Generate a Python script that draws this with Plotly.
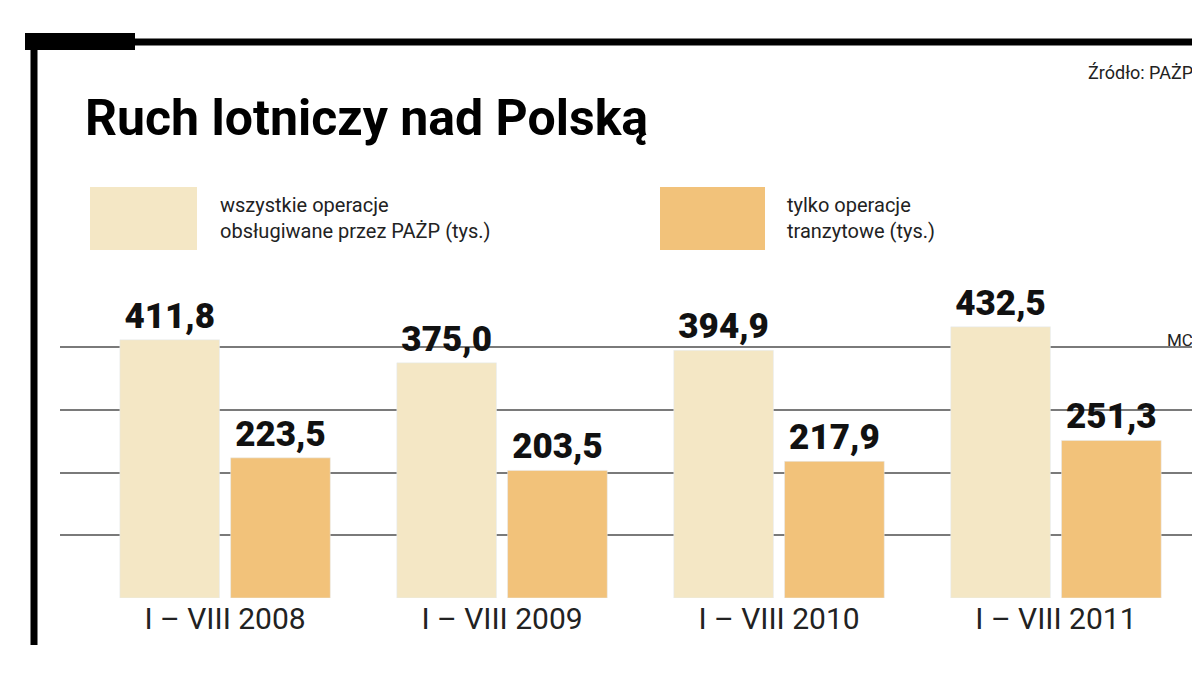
import plotly.graph_objects as go

periods = ["I – VIII 2008", "I – VIII 2009", "I – VIII 2010", "I – VIII 2011"]
all_ops = [411.8, 375.0, 394.9, 432.5]
transit_ops = [223.5, 203.5, 217.9, 251.3]
legend_names = ["wszystkie operacje<br>obsługiwane przez PAŻP (tys.)",
                "tylko operacje<br>tranzytowe (tys.)"]

BEIGE = "#F4E7C5"
ORANGE = "#F2C27A"
LABEL_FONT = "Roboto, sans-serif"

# page has an 8px body margin, so work in screen pixels minus 8
OFF = 8
W, H = 1192, 665
L, R, T, B = 60 - OFF, 1195 - OFF, 297 - OFF, 598 - OFF


def px(x):
    return (x - OFF - L) / (R - L)


def py(y):
    return (B - (y - OFF)) / (B - T)


xs = list(range(len(periods)))
fig = go.Figure()
fig.add_trace(go.Bar(x=xs, y=all_ops, offset=-0.38, width=0.36,
                     marker_color=BEIGE, name=legend_names[0],
                     texttemplate="%{y:.1f}", textposition="outside",
                     textfont=dict(size=35, color="#111", family="Roboto Black, Arial Black, Arial")))
fig.add_trace(go.Bar(x=xs, y=transit_ops, offset=0.02, width=0.36,
                     marker_color=ORANGE, name=legend_names[1],
                     texttemplate="%{y:.1f}", textposition="outside",
                     textfont=dict(size=35, color="#111", family="Roboto Black, Arial Black, Arial")))
fig.update_traces(cliponaxis=False, showlegend=False)

shapes = [
    # top rule and left rule
    dict(type="line", x0=px(25), x1=px(1195), y0=py(42), y1=py(42), line=dict(color="black", width=7)),
    dict(type="rect", x0=px(25), x1=px(135), y0=py(50), y1=py(33), fillcolor="black", line_width=0),
    dict(type="line", x0=px(34), x1=px(34), y0=py(35), y1=py(645), line=dict(color="black", width=7)),
    # legend swatches
    dict(type="rect", x0=px(90), x1=px(197), y0=py(250), y1=py(187), fillcolor=BEIGE, line_width=0),
    dict(type="rect", x0=px(660), x1=px(765), y0=py(250), y1=py(187), fillcolor=ORANGE, line_width=0),
]
annotations = [
    dict(text="<b>Ruch lotniczy nad Polską</b>", x=px(83), y=py(118), xanchor="left", yanchor="middle",
         font=dict(size=50, family=LABEL_FONT, color="black"), showarrow=False),
    dict(text="Źródło: PAŻP", x=px(1195), y=py(72), xanchor="right", yanchor="middle",
         font=dict(size=18, family="Roboto", color="#222"), showarrow=False),
    dict(text=legend_names[0], x=px(218), y=py(218), xanchor="left", yanchor="middle", align="left",
         font=dict(size=20, family="Roboto", color="#222"), showarrow=False),
    dict(text=legend_names[1], x=px(785), y=py(218), xanchor="left", yanchor="middle", align="left",
         font=dict(size=20, family="Roboto", color="#222"), showarrow=False),
    dict(text="MC", x=px(1195), y=py(340), xanchor="right", yanchor="middle",
         font=dict(size=17, family="Roboto", color="#222"), showarrow=False),
]
for a in annotations:
    a.update(xref="paper", yref="paper")
for s in shapes:
    s.update(xref="paper", yref="paper")

fig.update_layout(
    width=W, height=H,
    margin=dict(l=L, r=W - R, t=T, b=H - B),
    plot_bgcolor="white", paper_bgcolor="white",
    separators=", ",
    shapes=shapes, annotations=annotations,
    xaxis=dict(range=[-0.596, 3.502], tickvals=xs, ticktext=periods, showgrid=False,
               zeroline=False, tickfont=dict(size=30, family=LABEL_FONT, color="#222"), ticklen=0),
    yaxis=dict(range=[0, 480], tickvals=[0, 100, 200, 300, 400], showticklabels=False,
               showgrid=True, gridcolor="#7a7a7a", gridwidth=1.5, zeroline=False),
)
fig.write_html("out.html")
